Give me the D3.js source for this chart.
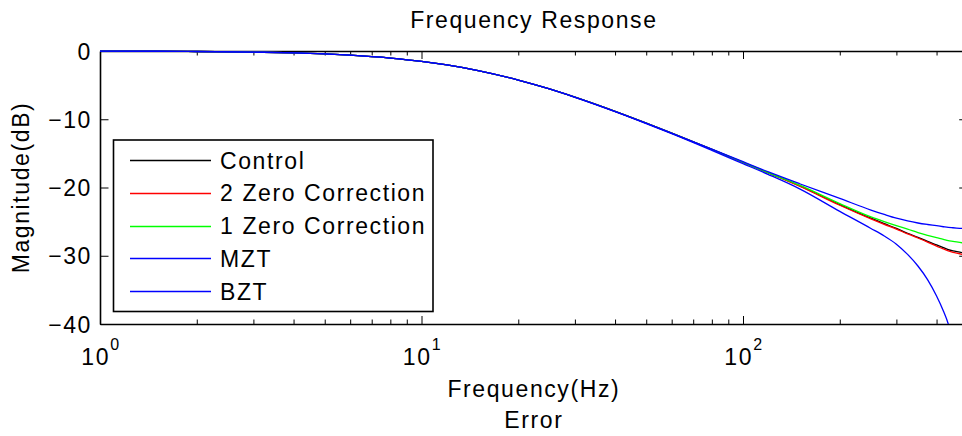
<!DOCTYPE html>
<html>
<head>
<meta charset="utf-8">
<script src="https://cdn.jsdelivr.net/npm/d3@7"></script>
<style>
  html, body { margin: 0; padding: 0; background: #fff; }
  svg { display: block; }
  text { font-family: "Liberation Sans", Arial, Helvetica, sans-serif; fill: #000; }
</style>
</head>
<body>
<svg id="chart" width="962" height="436"></svg>
<script>
// Frequency grid (Hz) shared by all responses
const freqs = [1, 1.5, 2, 3, 4, 5, 6, 8, 10, 12, 15, 20, 25, 30, 40, 50, 60, 80, 100, 120, 150, 200, 250, 275, 300, 325, 350, 375, 400, 420, 435, 450, 480, 500];

// Magnitude responses in dB
const control = [-0.02, -0.04, -0.07, -0.16, -0.28, -0.43, -0.61, -1.03, -1.51, -2.04, -2.87, -4.26, -5.56, -6.76, -8.84, -10.57, -12.04, -14.42, -16.3, -17.85, -19.76, -22.5, -24.5, -25.3, -26.0, -26.7, -27.3, -27.9, -28.4, -28.8, -29.1, -29.3, -29.55, -29.9];
const twoZero = [-0.02, -0.04, -0.07, -0.16, -0.28, -0.43, -0.61, -1.03, -1.51, -2.04, -2.87, -4.26, -5.56, -6.76, -8.84, -10.57, -12.04, -14.42, -16.3, -17.85, -19.8, -22.6, -24.6, -25.4, -26.1, -26.8, -27.4, -28.0, -28.6, -29.0, -29.3, -29.5, -29.8, -30.2];
const oneZero = [-0.02, -0.04, -0.07, -0.16, -0.28, -0.43, -0.61, -1.03, -1.51, -2.04, -2.87, -4.26, -5.56, -6.76, -8.84, -10.57, -12.04, -14.42, -16.3, -17.85, -19.65, -22.35, -24.3, -25.0, -25.6, -26.1, -26.6, -27.0, -27.35, -27.6, -27.8, -27.9, -28.1, -28.2];
const mzt = [-0.02, -0.04, -0.07, -0.16, -0.28, -0.43, -0.61, -1.03, -1.51, -2.04, -2.87, -4.26, -5.56, -6.76, -8.84, -10.57, -12.04, -14.38, -16.22, -17.72, -19.45, -21.6, -23.3, -23.95, -24.5, -24.9, -25.2, -25.42, -25.6, -25.75, -25.85, -25.9, -26.0, -26.05];
const bzt = [-0.02, -0.04, -0.07, -0.16, -0.28, -0.43, -0.61, -1.03, -1.51, -2.04, -2.87, -4.26, -5.56, -6.78, -8.88, -10.63, -12.1, -14.55, -16.5, -18.1, -20.2, -23.5, -26.0, -27.1, -28.3, -29.8, -31.5, -33.5, -35.9, -38.1, -40.0, -42.8, -52.0, null];

const seriesNames = ["Control", "2 Zero Correction", "1 Zero Correction", "MZT", "BZT"];
const seriesColors = ["#000000", "#ff0000", "#00ff00", "#0000ff", "#0000ff"];
const seriesValues = [control, twoZero, oneZero, mzt, bzt];

// Axis ticks
const yTicks = [0, -10, -20, -30, -40];
const xMajor = [1, 10, 100];
const xMajorExp = ["0", "1", "2"];
const xMinor = [2, 3, 4, 5, 6, 7, 8, 9, 20, 30, 40, 50, 60, 70, 80, 90, 200, 300, 400];

const title = "Frequency Response";
const xLabel = "Frequency(Hz)";
const xSubLabel = "Error";
const yLabel = "Magnitude(dB)";

const svg = d3.select("#chart");
const plotLeft = 100, plotTop = 51, plotBottom = 324;
const decade = 321.5;
const plotRight = plotLeft + decade * Math.log10(500);

const x = d3.scaleLog().domain([1, 500]).range([plotLeft, plotRight]);
const y = d3.scaleLinear().domain([-40, 0]).range([plotBottom, plotTop]);

const fontSize = 23;
const spacing = "1.6px";

svg.append("defs").append("clipPath").attr("id", "plotClip")
  .append("rect").attr("x", plotLeft).attr("y", plotTop - 1)
  .attr("width", plotRight - plotLeft).attr("height", plotBottom - plotTop + 1);

// Axes: ticks point inward on all four sides
function styleAxis(g) {
  g.selectAll("path.domain").attr("stroke", "#000").attr("stroke-width", 1.6);
  g.selectAll(".tick line").attr("stroke", "#000").attr("stroke-width", 1);
  g.selectAll(".tick text").remove();
}

svg.append("g").attr("transform", `translate(0,${plotBottom})`)
  .call(d3.axisBottom(x).tickValues(xMajor).tickSizeInner(-8).tickSizeOuter(0).tickFormat(""))
  .call(styleAxis);
svg.append("g").attr("transform", `translate(0,${plotBottom})`)
  .call(d3.axisBottom(x).tickValues(xMinor).tickSizeInner(-4.5).tickSizeOuter(0).tickFormat(""))
  .call(g => g.select("path.domain").remove())
  .call(styleAxis);
svg.append("g").attr("transform", `translate(0,${plotTop})`)
  .call(d3.axisTop(x).tickValues(xMajor).tickSizeInner(-8).tickSizeOuter(0).tickFormat(""))
  .call(styleAxis);
svg.append("g").attr("transform", `translate(0,${plotTop})`)
  .call(d3.axisTop(x).tickValues(xMinor).tickSizeInner(-4.5).tickSizeOuter(0).tickFormat(""))
  .call(g => g.select("path.domain").remove())
  .call(styleAxis);
svg.append("g").attr("transform", `translate(${plotLeft},0)`)
  .call(d3.axisLeft(y).tickValues(yTicks).tickSizeInner(-8.5).tickSizeOuter(0).tickFormat(""))
  .call(styleAxis);
svg.append("g").attr("transform", `translate(${plotRight},0)`)
  .call(d3.axisRight(y).tickValues(yTicks).tickSizeInner(-8.5).tickSizeOuter(0).tickFormat(""))
  .call(styleAxis);

// Curves, drawn over the axis frame
const line = d3.line()
  .defined(d => d.v !== null)
  .x(d => x(d.f))
  .y(d => y(d.v))
  .curve(d3.curveMonotoneX);

const plot = svg.append("g").attr("clip-path", "url(#plotClip)");
seriesValues.forEach((vals, i) => {
  plot.append("path")
    .datum(freqs.map((f, k) => ({ f: f, v: vals[k] })))
    .attr("fill", "none")
    .attr("stroke", seriesColors[i])
    .attr("stroke-width", 1.3)
    .attr("d", line);
});

// Y tick labels
svg.append("g").selectAll("text").data(yTicks).join("text")
  .attr("x", plotLeft - 8)
  .attr("y", d => y(d) + 8.5)
  .attr("text-anchor", "end")
  .style("font-size", fontSize + "px")
  .style("letter-spacing", spacing)
  .text(d => d === 0 ? "0" : "\u2212" + Math.abs(d));

// X tick labels as powers of ten
const xl = svg.append("g").selectAll("text").data(xMajor).join("text")
  .attr("x", d => x(d) + 1)
  .attr("y", 365)
  .attr("text-anchor", "middle")
  .style("font-size", fontSize + "px")
  .style("letter-spacing", spacing);
xl.append("tspan").text("10");
xl.append("tspan").attr("dy", -15).style("font-size", "16px").text((d, i) => xMajorExp[i]);

// Titles
const cx = (plotLeft + plotRight) / 2;
svg.append("text").attr("x", cx).attr("y", 27.5).attr("text-anchor", "middle")
  .style("font-size", fontSize + "px").style("letter-spacing", spacing).text(title);
svg.append("text").attr("x", cx).attr("y", 397).attr("text-anchor", "middle")
  .style("font-size", fontSize + "px").style("letter-spacing", spacing).text(xLabel);
svg.append("text").attr("x", cx).attr("y", 428).attr("text-anchor", "middle")
  .style("font-size", fontSize + "px").style("letter-spacing", spacing).text(xSubLabel);
svg.append("text")
  .attr("transform", `translate(29,${(plotTop + plotBottom) / 2}) rotate(-90)`)
  .attr("text-anchor", "middle")
  .style("font-size", fontSize + "px").style("letter-spacing", spacing).text(yLabel);

// Legend
const legend = svg.append("g");
legend.append("rect")
  .attr("x", 113.5).attr("y", 140).attr("width", 319.5).attr("height", 171.5)
  .attr("fill", "#fff").attr("stroke", "#000").attr("stroke-width", 1.6);
const rowY = d3.scalePoint().domain(seriesNames).range([160, 291]);
seriesNames.forEach((name, i) => {
  const ly = Math.round(rowY(name)) + 0.5;
  legend.append("line")
    .attr("x1", 130).attr("x2", 211)
    .attr("y1", ly).attr("y2", ly)
    .attr("stroke", seriesColors[i]).attr("stroke-width", 1.4);
  legend.append("text")
    .attr("x", 220).attr("y", rowY(name) + 8.5)
    .style("font-size", fontSize + "px").style("letter-spacing", spacing)
    .text(name);
});
</script>
</body>
</html>
